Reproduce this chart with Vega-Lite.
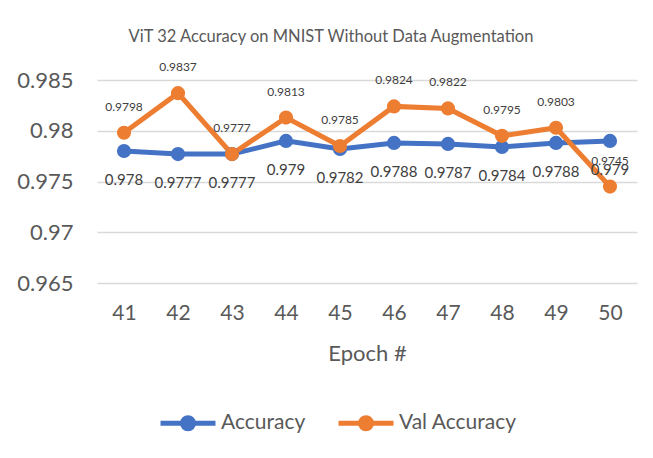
{
  "$schema": "https://vega.github.io/schema/vega-lite/v6.json",
  "width": 540,
  "height": 203,
  "autosize": "none",
  "padding": {"left": 97, "top": 80, "right": 16, "bottom": 175},
  "background": "white",
  "config": {
    "font": "Lato",
    "view": {"stroke": null},
    "axis": {"labelColor": "#595959", "titleColor": "#595959", "labelFont": "Lato", "titleFont": "Lato"}
  },
  "title": {
    "text": "ViT 32 Accuracy on MNIST Without Data Augmentation",
    "fontSize": 16.5,
    "fontWeight": "normal",
    "color": "#595959",
    "font": "Lato",
    "anchor": "middle",
    "dx": -36,
    "offset": 16
  },
  "data": {
    "values": [
      {"epoch": 41, "series": "Accuracy", "value": 0.978},
      {"epoch": 42, "series": "Accuracy", "value": 0.9777},
      {"epoch": 43, "series": "Accuracy", "value": 0.9777},
      {"epoch": 44, "series": "Accuracy", "value": 0.979},
      {"epoch": 45, "series": "Accuracy", "value": 0.9782},
      {"epoch": 46, "series": "Accuracy", "value": 0.9788},
      {"epoch": 47, "series": "Accuracy", "value": 0.9787},
      {"epoch": 48, "series": "Accuracy", "value": 0.9784},
      {"epoch": 49, "series": "Accuracy", "value": 0.9788},
      {"epoch": 50, "series": "Accuracy", "value": 0.979},
      {"epoch": 41, "series": "Val Accuracy", "value": 0.9798},
      {"epoch": 42, "series": "Val Accuracy", "value": 0.9837},
      {"epoch": 43, "series": "Val Accuracy", "value": 0.9777},
      {"epoch": 44, "series": "Val Accuracy", "value": 0.9813},
      {"epoch": 45, "series": "Val Accuracy", "value": 0.9785},
      {"epoch": 46, "series": "Val Accuracy", "value": 0.9824},
      {"epoch": 47, "series": "Val Accuracy", "value": 0.9822},
      {"epoch": 48, "series": "Val Accuracy", "value": 0.9795},
      {"epoch": 49, "series": "Val Accuracy", "value": 0.9803},
      {"epoch": 50, "series": "Val Accuracy", "value": 0.9745}
    ]
  },
  "encoding": {
    "x": {
      "field": "epoch",
      "type": "ordinal",
      "scale": {"type": "point", "padding": 0.5},
      "axis": {
        "title": "Epoch #",
        "titleFontSize": 22,
        "titleFontWeight": "normal",
        "titlePadding": 20,
        "labelFontSize": 21,
        "labelAngle": 0,
        "labelPadding": 19,
        "ticks": false,
        "domain": false,
        "grid": false
      }
    },
    "y": {
      "field": "value",
      "type": "quantitative",
      "scale": {"domain": [0.965, 0.985], "nice": false, "zero": false},
      "axis": {
        "title": null,
        "values": [0.965, 0.97, 0.975, 0.98, 0.985],
        "format": ".3~f",
        "labelFontSize": 22,
        "labelPadding": 24,
        "ticks": false,
        "domain": false,
        "grid": true,
        "gridColor": "#d9d9d9",
        "gridWidth": 1.5
      }
    },
    "color": {
      "field": "series",
      "type": "nominal",
      "scale": {"domain": ["Accuracy", "Val Accuracy"], "range": ["#4472C4", "#ED7D31"]},
      "legend": {
        "title": null,
        "orient": "none",
        "direction": "horizontal",
        "legendX": 61,
        "legendY": 313,
        "symbolType": "M-1,0H1M0.2,0A0.2,0.2 0 1 1 -0.2,0A0.2,0.2 0 1 1 0.2,0Z",
        "symbolSize": 3025,
        "symbolStrokeWidth": 5,
        "labelFontSize": 21,
        "labelColor": "#595959",
        "labelFont": "Lato",
        "labelOffset": 3,
        "columnPadding": 22,
        "encode": {"symbols": {"update": {"fill": {"scale": "color", "field": "value"}, "fillOpacity": {"value": 1}}}}
      }
    }
  },
  "layer": [
    {"mark": {"type": "line", "strokeWidth": 5}},
    {"mark": {"type": "point", "filled": true, "size": 200, "opacity": 1, "shape": "circle"}},
    {
      "transform": [{"filter": "datum.series === 'Accuracy'"}],
      "mark": {"type": "text", "dy": 29, "fontSize": 15, "font": "Lato", "color": "#404040"},
      "encoding": {"text": {"field": "value", "type": "quantitative", "format": ".4~f"}, "color": {"value": "#404040"}}
    },
    {
      "transform": [{"filter": "datum.series === 'Val Accuracy'"}],
      "mark": {"type": "text", "dy": -26, "fontSize": 12, "font": "Lato", "color": "#404040"},
      "encoding": {"text": {"field": "value", "type": "quantitative", "format": ".4~f"}, "color": {"value": "#404040"}}
    }
  ]
}
